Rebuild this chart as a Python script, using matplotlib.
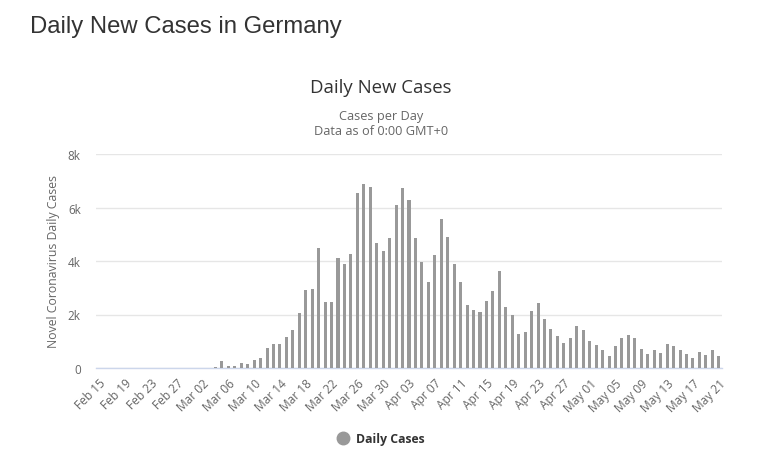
import matplotlib
matplotlib.use("Agg")
import matplotlib.pyplot as plt
import numpy as np
import datetime as dt

plt.rcParams['font.family'] = ['Open Sans', 'DejaVu Sans']

start = dt.date(2020, 2, 15)
n_days = 97
dates = [start + dt.timedelta(days=i) for i in range(n_days)]
date_labels = [d.strftime("%b %d") for d in dates]

# Daily new cases, Feb 15 .. May 21
cases = [0]*18 + [
    50, 274, 87, 87, 200, 162, 312, 386, 760, 910,
    910, 1171, 1433, 2068, 2928, 2966, 4498, 2480, 2480, 4124,
    3900, 4274, 6554, 6890, 6778, 4685, 4386, 4872, 6105, 6741,
    6292, 4872, 3975, 3227, 4236, 5582, 4909, 3900, 3227, 2367,
    2181, 2106, 2517, 2891, 3638, 2293, 1994, 1283, 1358, 2143,
    2442, 1844, 1470, 1209, 947, 1134, 1582, 1433, 1022, 872,
    685, 461, 835, 1134, 1246, 1134, 723, 536, 685, 573,
    910, 835, 685, 536, 386, 611, 498, 685, 461,
]

yticks = [0, 2000, 4000, 6000, 8000]
ytick_labels = ["0", "2k", "4k", "6k", "8k"]

W, H = 784, 477
fig = plt.figure(figsize=(W/100, H/100), dpi=100)
ax = fig.add_axes([96/W, 1-369/H, (722-96)/W, (369-155)/H])

x = np.arange(n_days)
ax.bar(x, cases, width=0.47, color="#999999", zorder=3)

ax.set_xlim(-0.5, n_days-0.5)
ax.set_ylim(0, 8000)
ax.set_yticks(yticks)
ax.set_yticklabels(ytick_labels, color="#666666", fontsize=8.4)
ax.grid(axis='y', color="#e6e6e6", linewidth=1, zorder=0)
ax.tick_params(axis='y', length=0, pad=11)
tick_idx = list(range(0, n_days, 4))
ax.set_xticks(tick_idx)
ax.set_xticklabels([date_labels[i] for i in tick_idx], rotation=45, ha='right',
                   rotation_mode='anchor', color="#666666", fontsize=8.6)
ax.tick_params(axis='x', length=0, pad=6)
for s in ['top', 'right', 'left']:
    ax.spines[s].set_visible(False)
ax.spines['bottom'].set_color("#ccd6eb")
ax.spines['bottom'].set_linewidth(1)
ax.set_ylabel("Novel Coronavirus Daily Cases", color="#666666", fontsize=8.8, labelpad=6)

fig.text(30/W, 1-27/H, "Daily New Cases in Germany", fontsize=17.2, color="#333333",
         ha='left', va='center', family=['Liberation Sans', 'DejaVu Sans'])
fig.text(381/W, 1-88/H, "Daily New Cases", fontsize=13.4, color="#333333", ha='center', va='center')
fig.text(381/W, 1-117/H, "Cases per Day", fontsize=9.2, color="#666666", ha='center', va='center')
fig.text(381/W, 1-132/H, "Data as of 0:00 GMT+0", fontsize=9.2, color="#666666", ha='center', va='center')

# legend
fig.lines.append(matplotlib.lines.Line2D([343/W], [1-439/H], marker='o', markersize=9,
                 color="#999999", transform=fig.transFigure, linestyle='none'))
fig.text(356/W, 1-439/H, "Daily Cases", fontsize=8.8, color="#333333", fontweight='bold',
         ha='left', va='center')

fig.savefig("out.png", dpi=100, facecolor="white")
